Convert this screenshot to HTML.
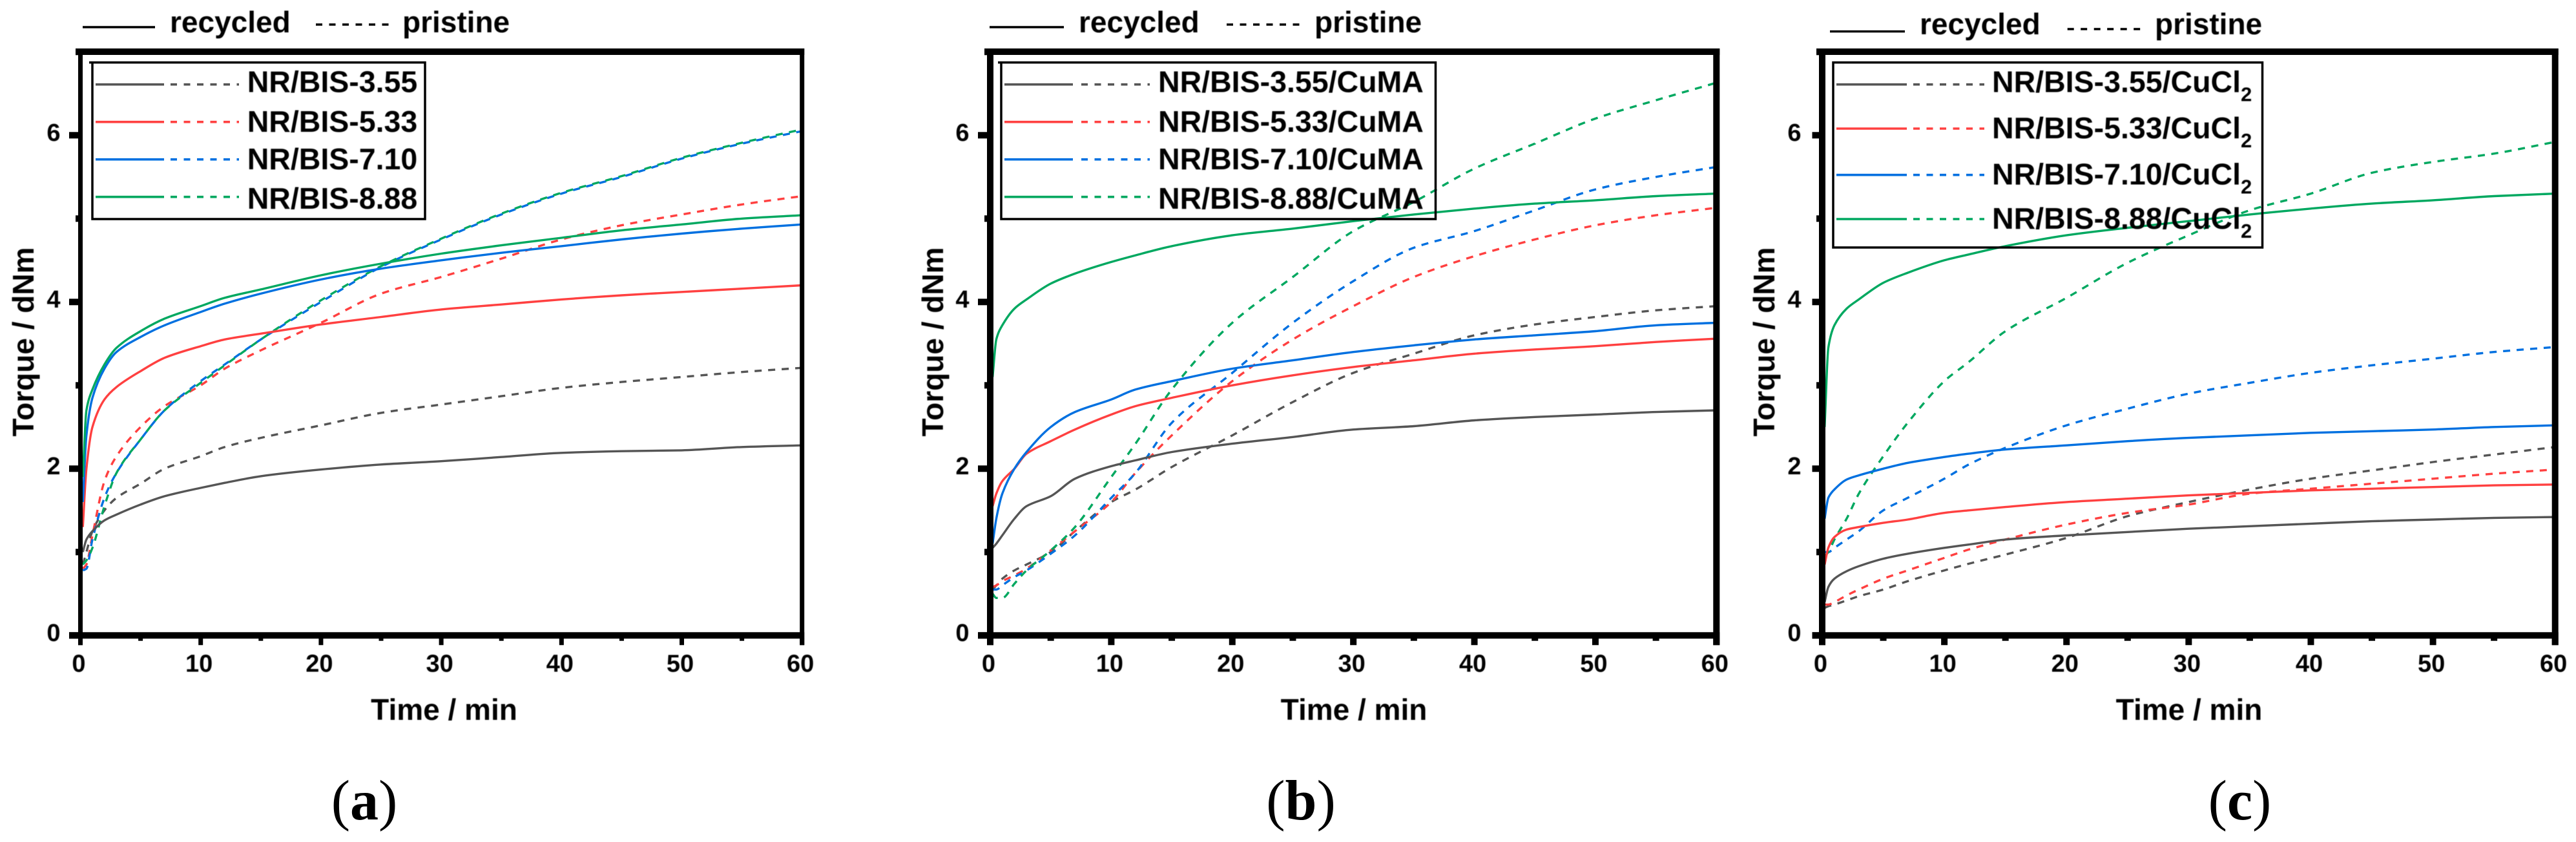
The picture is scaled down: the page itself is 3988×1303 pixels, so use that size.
<!DOCTYPE html>
<html lang="en">
<head>
<meta charset="utf-8">
<title>Torque versus time for NR/BIS composites</title>
<style>
html,body{margin:0;padding:0;background:#fff;width:3988px;height:1303px;overflow:hidden}
svg{display:block;position:absolute;left:0;top:0}
text{font-family:"Liberation Sans",sans-serif;font-weight:700;fill:#000}
.soft{filter:blur(.6px)}
.cap{font-family:"Liberation Serif",serif;font-weight:400;font-size:88px}
.cap tspan{font-weight:700}
</style>
</head>
<body>
<svg id="figure" xmlns="http://www.w3.org/2000/svg" width="3988" height="1303" viewBox="0 0 3988 1303"></svg>
<script>
// Shared sample times (min)
const time = [0.2,0.5,1,2,3,5,7,10,12,15,20,25,30,35,40,45,50,55,60];

// Axis ticks
const xMajorTicks = [0,10,20,30,40,50,60];
const xMinorTicks = [5,15,25,35,45,55];
const yMajorTicks = [0,2,4,6];
const yMinorTicks = [1,3,5,7];

// Panel (a) torque values (dNm)
const aRecycled355 = [1.0,1.15,1.25,1.38,1.45,1.57,1.67,1.77,1.83,1.91,1.99,2.05,2.09,2.14,2.19,2.21,2.22,2.26,2.28];
const aPristine355 = [0.85,1.0,1.25,1.5,1.65,1.82,2.0,2.15,2.26,2.37,2.52,2.67,2.77,2.87,2.97,3.04,3.1,3.16,3.21];
const aRecycled533 = [1.3,2.0,2.5,2.83,2.98,3.17,3.33,3.47,3.55,3.62,3.73,3.82,3.91,3.97,4.03,4.08,4.12,4.16,4.2];
const aPristine533 = [0.8,0.85,1.2,1.85,2.15,2.5,2.75,3.0,3.2,3.42,3.75,4.1,4.3,4.52,4.75,4.92,5.05,5.17,5.27];
const aRecycled710 = [1.6,2.4,2.85,3.2,3.4,3.58,3.72,3.88,3.98,4.1,4.27,4.4,4.5,4.59,4.67,4.75,4.82,4.88,4.93];
const aPristine710 = [0.78,0.8,1.15,1.65,1.95,2.35,2.7,3.05,3.25,3.55,4.0,4.42,4.75,5.05,5.3,5.5,5.72,5.9,6.05];
const aRecycled888 = [1.9,2.7,2.95,3.25,3.45,3.65,3.8,3.95,4.05,4.15,4.32,4.46,4.58,4.68,4.77,4.86,4.93,5.0,5.04];
const aPristine888 = [0.85,0.9,1.05,1.55,1.95,2.35,2.7,3.03,3.24,3.55,4.02,4.43,4.76,5.06,5.31,5.51,5.73,5.91,6.07];

// Panel (b) torque values (dNm)
const bRecycled355 = [1.05,1.1,1.2,1.4,1.55,1.67,1.88,2.03,2.1,2.2,2.3,2.38,2.47,2.51,2.58,2.62,2.65,2.68,2.7];
const bPristine355 = [0.55,0.6,0.68,0.78,0.85,1.0,1.25,1.6,1.75,2.02,2.4,2.8,3.15,3.38,3.6,3.73,3.82,3.9,3.95];
const bRecycled533 = [1.55,1.7,1.85,2.0,2.18,2.33,2.47,2.65,2.75,2.85,3.0,3.12,3.22,3.3,3.38,3.43,3.47,3.52,3.56];
const bPristine533 = [0.58,0.6,0.65,0.72,0.8,1.02,1.25,1.6,1.95,2.4,3.05,3.55,3.95,4.3,4.55,4.75,4.92,5.04,5.13];
const bRecycled710 = [1.1,1.4,1.7,2.0,2.2,2.5,2.68,2.83,2.95,3.05,3.2,3.3,3.4,3.48,3.55,3.6,3.65,3.72,3.75];
const bPristine710 = [0.55,0.55,0.6,0.7,0.78,0.98,1.2,1.65,1.95,2.55,3.15,3.75,4.25,4.65,4.85,5.1,5.35,5.5,5.62];
const bRecycled888 = [3.1,3.55,3.72,3.92,4.03,4.22,4.34,4.48,4.56,4.67,4.8,4.88,4.97,5.05,5.12,5.18,5.22,5.27,5.3];
const bPristine888 = [0.5,0.45,0.45,0.62,0.78,1.02,1.3,1.9,2.3,2.95,3.75,4.3,4.85,5.2,5.6,5.9,6.2,6.42,6.63];

// Panel (c) torque values (dNm)
const cRecycled355 = [0.4,0.58,0.68,0.77,0.83,0.92,0.98,1.05,1.09,1.15,1.2,1.24,1.28,1.31,1.34,1.37,1.39,1.41,1.42];
const cPristine355 = [0.33,0.35,0.37,0.42,0.47,0.55,0.65,0.78,0.86,0.97,1.17,1.43,1.6,1.75,1.88,1.98,2.08,2.17,2.26];
const cRecycled533 = [0.85,1.05,1.18,1.27,1.3,1.35,1.39,1.47,1.5,1.54,1.6,1.64,1.68,1.71,1.74,1.76,1.78,1.8,1.81];
const cPristine533 = [0.37,0.37,0.4,0.48,0.55,0.68,0.78,0.93,1.03,1.15,1.33,1.47,1.57,1.7,1.76,1.82,1.88,1.94,1.99];
const cRecycled710 = [1.4,1.65,1.75,1.87,1.92,2.0,2.07,2.14,2.18,2.23,2.28,2.33,2.37,2.4,2.43,2.45,2.47,2.5,2.52];
const cPristine710 = [1.0,1.0,1.05,1.15,1.25,1.5,1.65,1.88,2.05,2.25,2.52,2.72,2.9,3.03,3.15,3.24,3.32,3.4,3.46];
const cRecycled888 = [2.5,3.45,3.72,3.92,4.03,4.23,4.35,4.5,4.57,4.67,4.8,4.89,4.97,5.05,5.12,5.18,5.22,5.27,5.3];
const cPristine888 = [0.95,1.0,1.15,1.4,1.7,2.15,2.55,3.05,3.28,3.65,4.05,4.47,4.8,5.1,5.3,5.55,5.68,5.78,5.92];

const seriesLabels = ['NR/BIS-3.55','NR/BIS-5.33','NR/BIS-7.10','NR/BIS-8.88'];
const seriesSlugs = ['3-55','5-33','7-10','8-88'];
const seriesColors = ['#555555','#ff4040','#0070e0','#00a860'];

const panels = [
  {id:'a',cap:'a',capX:564,x0:124.5,x1:1241.7,sw:7,major:14,
   recycled:[aRecycled355,aRecycled533,aRecycled710,aRecycled888],
   pristine:[aPristine355,aPristine533,aPristine710,aPristine888],
   suffix:'',sub:false,
   yTitleX:52,xTitleX:687.5,yLabelX:83,
   top:{sx0:128,sx1:240,sy:42,tx:263,dx0:489,dx1:604,dy:38,px:623,base:50},
   box:{x:143,r:658,b:339,over:5},
   rows:[130.7,188.7,246.7,304.7],bases:[142.7,204,262,323],
   lg:{s0:148,s1:254,d0:264,d1:370,tx:382.7}},
  {id:'b',cap:'b',capX:2014,x0:1533,x1:2657.3,sw:10,major:14,
   recycled:[bRecycled355,bRecycled533,bRecycled710,bRecycled888],
   pristine:[bPristine355,bPristine533,bPristine710,bPristine888],
   suffix:'/CuMA',sub:false,
   yTitleX:1460,xTitleX:2096,yLabelX:1490,
   top:{sx0:1532,sx1:1647,sy:42,tx:1670,dx0:1899,dx1:2016,dy:38,px:2035,base:50},
   box:{x:1550,r:2222.5,b:339,over:5},
   rows:[130.7,188.7,246.7,304.7],bases:[142.7,204,262,323],
   lg:{s0:1555,s1:1661,d0:1674,d1:1780,tx:1793}},
  {id:'c',cap:'c',capX:3467.5,x0:2821,x1:3955.7,sw:10,major:10.5,
   recycled:[cRecycled355,cRecycled533,cRecycled710,cRecycled888],
   pristine:[cPristine355,cPristine533,cPristine710,cPristine888],
   suffix:'/CuCl',sub:true,
   yTitleX:2747,xTitleX:3389,yLabelX:2778,
   top:{sx0:2833,sx1:2949,sy:48.7,tx:2972,dx0:3200.7,dx1:3317,dy:45,px:3336,base:53},
   box:{x:2838,r:3502.5,b:383,over:0},
   rows:[130.7,199,270.7,339],bases:[142.7,214,285.7,354],
   lg:{s0:2843,s1:2952,d0:2962,d1:3072,tx:3084}}
];

const svg = document.getElementById('figure');
const NS = 'http://www.w3.org/2000/svg';
const Y0 = 983.3, Y_UNIT = 129;

function make(tag, attrs, parent, content){
  const el = document.createElementNS(NS, tag);
  for(const k in attrs){ el.setAttribute(k, attrs[k]); }
  if(content !== undefined){ el.textContent = content; }
  parent.appendChild(el);
  return el;
}
function yScale(v){ return Y0 - v * Y_UNIT; }
function xScale(p, t){ return p.x0 + (p.x1 - p.x0) * t / 60; }

// Monotone cubic path through the data points
function smoothPath(xs, ys){
  const n = xs.length, d = [], m = [];
  for(let i = 0; i < n - 1; i++){ d.push((ys[i+1] - ys[i]) / (xs[i+1] - xs[i])); }
  m.push(d[0]);
  for(let i = 1; i < n - 1; i++){
    m.push(d[i-1] * d[i] <= 0 ? 0 : 2 * d[i-1] * d[i] / (d[i-1] + d[i]));
  }
  m.push(d[n-2]);
  let out = 'M' + xs[0].toFixed(1) + ' ' + ys[0].toFixed(1);
  for(let i = 0; i < n - 1; i++){
    const h = (xs[i+1] - xs[i]) / 3;
    out += 'C' + (xs[i] + h).toFixed(1) + ' ' + (ys[i] + m[i] * h).toFixed(1) + ' ' +
      (xs[i+1] - h).toFixed(1) + ' ' + (ys[i+1] - m[i+1] * h).toFixed(1) + ' ' +
      xs[i+1].toFixed(1) + ' ' + ys[i+1].toFixed(1);
  }
  return out;
}

function drawCurve(g, p, values, color, dashed, name){
  const xs = time.map(function(t){ return xScale(p, t); });
  const ys = values.map(yScale);
  const attrs = {d:smoothPath(xs, ys), fill:'none', stroke:color, 'stroke-width':3.4, 'stroke-linejoin':'round'};
  if(dashed){ attrs['stroke-dasharray'] = '11 10'; }
  const el = make('path', attrs, g);
  
  
}

panels.forEach(function(p){
  const g = make('g', {}, svg);
  
  

  // curves
  p.pristine.forEach(function(vals, i){
    drawCurve(g, p, vals, seriesColors[i], true, 'pristine-curve-' + seriesSlugs[i]);
  });
  p.recycled.forEach(function(vals, i){
    drawCurve(g, p, vals, seriesColors[i], false, 'recycled-curve-' + seriesSlugs[i]);
  });

  // spines
  const hw = p.sw / 2;
  const left = make('rect', {x:p.x0-hw, y:75, width:p.sw, height:923.3, fill:'#000'}, g);
  
  
  const right = make('rect', {x:p.x1-hw, y:75, width:p.sw, height:923.3, fill:'#000'}, g);
  
  
  const top = make('rect', {x:p.x0-hw-4, y:75, width:p.x1-p.x0+p.sw+4, height:10, fill:'#000'}, g);
  
  
  const bottom = make('rect', {x:p.x0-hw-p.major, y:978.3, width:p.x1-p.x0+p.sw+p.major, height:10, fill:'#000'}, g);
  
  

  // x ticks
  xMajorTicks.forEach(function(t){
    const cx = xScale(p, t);
    const tick = make('rect', {x:cx-hw, y:988, width:p.sw, height:10.3, fill:'#000'}, g);
    
    
    const lab = make('text', {x:cx-2.5, y:1039.5, 'font-size':38, 'text-anchor':'middle', class:'soft'}, g, String(t));
    
    
  });
  xMinorTicks.forEach(function(t){
    const tick = make('rect', {x:xScale(p, t)-hw, y:988, width:p.sw, height:3.7, fill:'#000'}, g);
    
    
  });

  // y ticks
  yMajorTicks.forEach(function(v){
    const cy = yScale(v);
    const tick = make('rect', {x:p.x0-hw-p.major, y:cy-5, width:p.major, height:10, fill:'#000'}, g);
    
    
    const lab = make('text', {x:p.yLabelX, y:cy+8.5, 'font-size':38, 'text-anchor':'middle', class:'soft'}, g, String(v));
    
    
  });
  yMinorTicks.forEach(function(v){
    const tick = make('rect', {x:p.x0-hw-4, y:yScale(v)-5, width:4, height:10, fill:'#000'}, g);
    
    
  });

  // axis titles
  const xt = make('text', {x:p.xTitleX, y:1114, 'font-size':46, 'text-anchor':'middle', class:'soft'}, g, 'Time / min');
  
  
  const yt = make('text', {x:0, y:0, 'font-size':46, 'text-anchor':'middle', class:'soft', transform:'translate(' + p.yTitleX + ',529) rotate(-90)'}, g, 'Torque / dNm');
  
  

  // top style key
  const t = p.top;
  const rl = make('line', {x1:t.sx0, x2:t.sx1, y1:t.sy, y2:t.sy, stroke:'#000', 'stroke-width':3.4}, g);
  
  
  const rt = make('text', {x:t.tx, y:t.base, 'font-size':46, class:'soft'}, g, 'recycled');
  
  
  const pl = make('line', {x1:t.dx0, x2:t.dx1, y1:t.dy, y2:t.dy, stroke:'#000', 'stroke-width':3.4, 'stroke-dasharray':'10 10.5'}, g);
  
  
  const pt = make('text', {x:t.px, y:t.base, 'font-size':46, class:'soft'}, g, 'pristine');
  
  

  // legend
  const b = p.box;
  const lgroup = make('g', {}, g);
  
  
  const box = make('rect', {x:b.x, y:96.7, width:b.r-b.x, height:b.b-96.7, fill:'none', stroke:'#000', 'stroke-width':3.5}, lgroup);
  
  
  if(b.over){
    const over = make('line', {x1:b.x-b.over, x2:b.x, y1:96.7, y2:96.7, stroke:'#000', 'stroke-width':3.5}, lgroup);
    
    
  }
  p.rows.forEach(function(ry, i){
    const s = make('line', {x1:p.lg.s0, x2:p.lg.s1, y1:ry, y2:ry, stroke:seriesColors[i], 'stroke-width':3.6}, lgroup);
    
    
    const d = make('line', {x1:p.lg.d0, x2:p.lg.d1, y1:ry, y2:ry, stroke:seriesColors[i], 'stroke-width':3.6, 'stroke-dasharray':'10 10.5'}, lgroup);
    
    
    const lab = make('text', {x:p.lg.tx, y:p.bases[i], 'font-size':46.5, class:'soft'}, lgroup, seriesLabels[i] + p.suffix);
    
    
    if(p.sub){
      const sb = make('tspan', {dy:14, 'font-size':31}, lab, '2');
      
      
    }
  });

  // caption
  const cap = make('text', {x:p.capX, y:1268, class:'cap', 'text-anchor':'middle'}, g);
  
  
  cap.appendChild(document.createTextNode('('));
  const letter = make('tspan', {}, cap, p.cap);
  
  
  cap.appendChild(document.createTextNode(')'));
});
</script>
</body>
</html>
